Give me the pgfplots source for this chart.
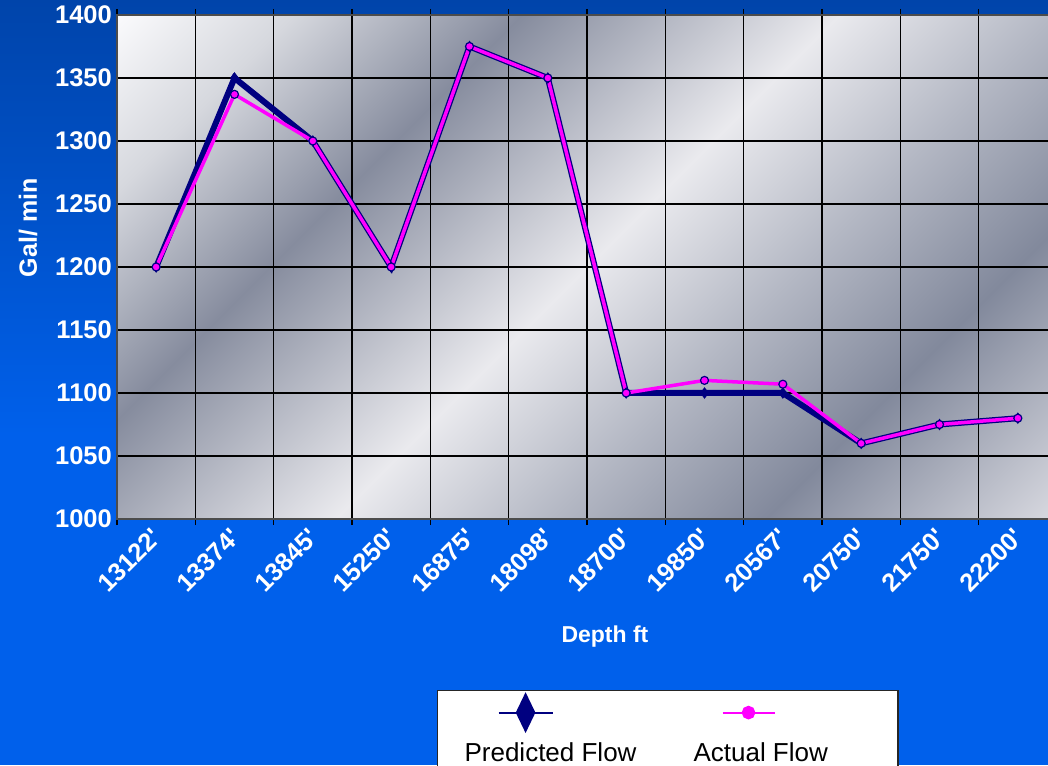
\documentclass[border=0pt]{standalone}
\usepackage{pgfplots}
\pgfplotsset{compat=1.18}
\usepackage{fontspec}
\setmainfont{Liberation Sans}
\definecolor{bgtop}{RGB}{0,68,170}
\definecolor{bgbot}{RGB}{0,96,235}
\definecolor{navy}{RGB}{0,0,128}
\definecolor{pinkf}{RGB}{255,0,255}
\definecolor{pa}{RGB}{250,250,252}
\definecolor{pb}{RGB}{214,216,222}
\definecolor{pc}{RGB}{134,140,158}
\definecolor{pd}{RGB}{234,234,238}
\definecolor{pe}{RGB}{180,184,196}
\definecolor{pf}{RGB}{130,137,156}
\definecolor{pg}{RGB}{216,217,224}
\pgfdeclarehorizontalshading{plotshade}{100bp}{color(0bp)=(pa); color(14.6bp)=(pa); color(23.1bp)=(pb); color(34.4bp)=(pc); color(50bp)=(pd); color(60.6bp)=(pe); color(71.2bp)=(pf); color(85.4bp)=(pg); color(100bp)=(pg)}
\begin{document}
\begin{tikzpicture}[x=1pt,y=1pt]
\useasboundingbox (0,0) rectangle (1048,765);
\clip (0,0) rectangle (1048,765);
\fill[bgbot] (0,0) rectangle (1048,765);
\shade[top color=bgtop, bottom color=bgbot] (0,330) rectangle (1048,766);
\begin{axis}[
  at={(117pt,246pt)}, anchor=south west,
  scale only axis, width=940pt, height=504pt,
  xmin=-0.5, xmax=11.5, ymin=1000, ymax=1400,
  xtick={0,...,11},
  xticklabels={13122\textquotesingle,13374\textquotesingle,13845\textquotesingle,15250\textquotesingle,16875\textquotesingle,18098\textquotesingle,18700\textquotesingle,19850\textquotesingle,20567\textquotesingle,20750\textquotesingle,21750\textquotesingle,22200\textquotesingle},
  minor xtick={-0.5,0.5,...,11.5},
  ytick={1000,1050,...,1400},
  xminorgrids=true, ymajorgrids=true, xmajorgrids=false,
  major grid style={black, line width=1.3pt},
  minor grid style={black, line width=1.3pt},
  major tick length=0pt, minor tick length=6pt, tick align=outside,
  major x tick style={draw=none},
  minor x tick style={black, line width=1.5pt},
  y tick style={draw=none},
  axis line style={black!70, line width=1.5pt},
  axis background/.style={shading=plotshade, shading angle=-45},
  tick label style={font=\bfseries\fontsize{25.5}{25.5}\selectfont, text=white},
  /pgf/number format/assume math mode=true,
  /pgf/number format/set thousands separator={},
  yticklabel style={inner sep=0pt, xshift=-5pt},
  xticklabel style={inner sep=0pt, xshift=1pt, yshift=-14pt, rotate=45, anchor=east},
  xlabel={Depth ft},
  xlabel style={at={(axis description cs:0.5191,-0.2454)}, anchor=base, font=\bfseries\fontsize{23}{23}\selectfont, text=white},
  ylabel={Gal/ min},
  ylabel style={at={(axis description cs:-0.0947,0.578)}, anchor=center, font=\bfseries\fontsize{25}{25}\selectfont, text=white},
  legend columns=2,
  legend style={at={(axis description cs:0.3404,-0.3393)}, anchor=north west,
    draw=black!85, line width=1.2pt, fill=white, inner sep=0pt,
    column sep=0pt, row sep=0pt,
    font=\fontsize{26}{26}\selectfont,
    cells={anchor=base west},
    nodes={inner sep=0pt, text height=71pt, text depth=25pt, text=black}},
]
\addplot[navy, line width=6pt, mark=diamond*, mark size=5pt,
  mark options={line width=1pt, fill=navy},
  legend image code/.code={
    \path[draw=none, fill=none, line width=0pt] (0pt,-10pt) rectangle (27pt,10pt);
    \draw[overlay, navy, line width=2pt] (61pt,49pt) -- (115pt,49pt);
    \fill[overlay, navy] (88pt,35.5pt) -- (94.5pt,49pt) -- (88pt,62.5pt) -- (81.5pt,49pt) -- cycle;
  }]
coordinates {(0,1200) (1,1350) (2,1300) (3,1200) (4,1375) (5,1350) (6,1100) (7,1100) (8,1100) (9,1060) (10,1075) (11,1080)};
\addlegendentry{Predicted Flow}
\addplot[pinkf, line width=3.5pt, mark=*, mark size=4pt,
  mark options={fill=pinkf, draw=navy, line width=1.2pt},
  legend image code/.code={
    \path[draw=none, fill=none, line width=0pt] (0pt,-10pt) rectangle (57pt,10pt);
    \draw[overlay, pinkf, line width=2pt] (86pt,49pt) -- (138pt,49pt);
    \fill[overlay, pinkf] (112pt,49pt) circle (5pt);
  }]
coordinates {(0,1200) (1,1337) (2,1300) (3,1200) (4,1375) (5,1350) (6,1100) (7,1110) (8,1107) (9,1060) (10,1075) (11,1080)};
\addlegendentry{Actual Flow\hspace*{70pt}}
\end{axis}
\end{tikzpicture}
\end{document}
